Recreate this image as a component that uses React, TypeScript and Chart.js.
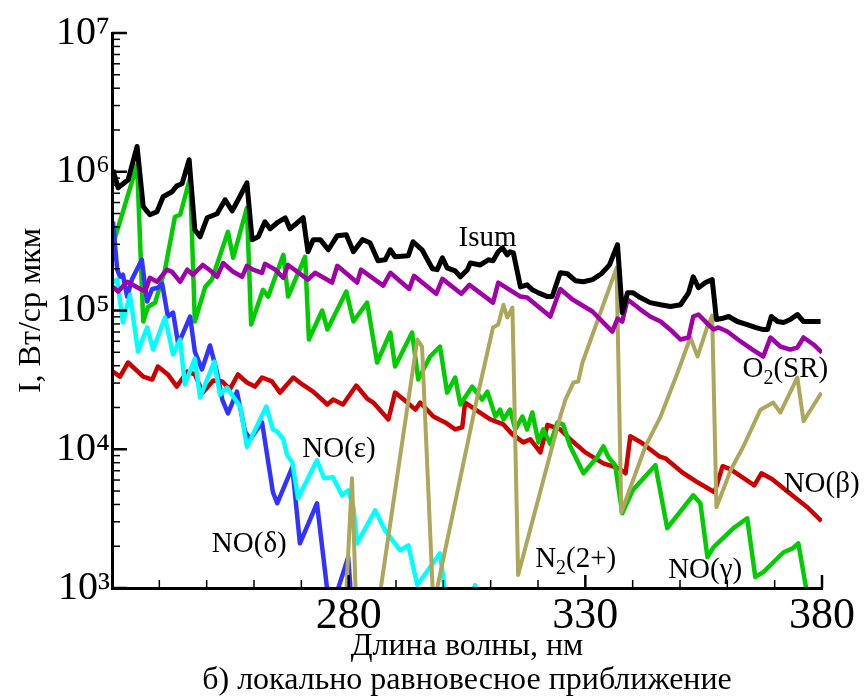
import { useEffect, useRef } from 'react';
import { Chart, registerables } from 'chart.js';

Chart.register(...registerables);

const SERIF = '"Liberation Serif", "Times New Roman", Times, serif';

// Axis ranges and tick labels
const xMin = 230;
const xMax = 380;
const yMin = 1e3;
const yMax = 1e7;
const xTickValues = [280, 330, 380];
const yTickValues = [1e3, 1e4, 1e5, 1e6, 1e7];

// [wavelength nm, intensity]
const isum: [number, number][] = [
  [230.2, 1.03e6], [231.3, 7.67e5], [233.4, 8.75e5], [235.3, 1.52e6], [236.6, 5.6e5], [238.0, 4.9e5],
  [239.5, 5.15e5], [240.8, 6.6e5], [242.7, 7.17e5], [243.7, 7.92e5], [244.8, 8.19e5], [246.3, 1.22e6],
  [247.5, 3.82e5], [248.6, 3.4e5], [250.1, 4.66e5], [252.2, 4.98e5], [253.9, 6.28e5], [255.4, 5.23e5],
  [257.1, 6.71e5], [258.5, 8.33e5], [259.6, 3.24e5], [260.9, 3.4e5], [262.3, 4.36e5], [263.4, 3.88e5],
  [264.9, 4.29e5], [266.6, 4.66e5], [267.6, 3.88e5], [270.4, 4.66e5], [271.4, 2.65e5], [272.5, 3.24e5],
  [274.0, 3.24e5], [275.7, 2.74e5], [277.6, 3.46e5], [279.5, 3.51e5], [281.0, 2.65e5], [282.9, 3.24e5],
  [284.5, 3.08e5], [286.2, 2.28e5], [287.7, 2.32e5], [288.8, 2.74e5], [289.8, 2.44e5], [292.6, 2.48e5],
  [293.6, 3.13e5], [295.5, 2.74e5], [297.7, 2.0e5], [298.7, 1.97e5], [299.8, 2.4e5], [300.8, 2.03e5],
  [302.5, 1.93e5], [303.6, 1.75e5], [305.1, 1.97e5], [305.7, 2.2e5], [307.8, 2.13e5], [309.5, 2.32e5],
  [310.5, 2.28e5], [311.6, 2.65e5], [312.5, 2.83e5], [313.5, 2.52e5], [314.1, 2.65e5], [314.8, 2.6e5],
  [316.3, 1.48e5], [317.7, 1.53e5], [318.8, 1.41e5], [320.1, 1.34e5], [322.0, 1.26e5], [323.0, 1.26e5],
  [324.7, 1.87e5], [326.2, 1.84e5], [327.9, 1.64e5], [329.6, 1.61e5], [331.5, 1.67e5], [333.4, 1.84e5],
  [335.1, 2.13e5], [336.8, 2.98e5], [337.8, 9.67e4], [338.9, 1.34e5], [340.1, 1.34e5], [341.6, 1.24e5],
  [343.7, 1.14e5], [345.9, 1.1e5], [348.0, 1.07e5], [350.1, 1.1e5], [351.8, 1.34e5], [352.8, 1.75e5],
  [353.9, 1.46e5], [355.4, 1.59e5], [356.8, 1.67e5], [357.7, 8.6e4], [358.8, 8.75e4], [360.3, 9.05e4],
  [362.1, 8.33e4], [364.2, 7.92e4], [365.9, 7.55e4], [367.4, 7.3e4], [368.5, 7.3e4], [369.3, 9.05e4],
  [370.6, 8.33e4], [371.9, 8.19e4], [373.3, 8.6e4], [374.8, 9.36e4], [376.1, 8.33e4], [378.0, 8.33e4],
  [379.7, 8.33e4],
];

const o2SR: [number, number][] = [
  [230.2, 1.48e5], [231.3, 1.37e5], [233.2, 1.61e5], [235.5, 1.46e5], [237.0, 1.37e5], [238.0, 1.72e5],
  [239.5, 1.61e5], [241.6, 1.97e5], [242.7, 1.9e5], [244.4, 1.61e5], [245.9, 1.97e5], [247.1, 1.81e5],
  [249.2, 2.13e5], [251.1, 1.9e5], [252.2, 1.75e5], [253.5, 2.2e5], [255.6, 1.9e5], [257.5, 1.75e5],
  [258.5, 2.1e5], [259.8, 1.97e5], [261.7, 1.87e5], [262.3, 2.17e5], [264.5, 1.97e5], [266.2, 1.72e5],
  [267.2, 2.13e5], [271.4, 1.67e5], [272.9, 1.87e5], [276.5, 1.59e5], [277.6, 2.1e5], [281.8, 1.59e5],
  [282.6, 1.97e5], [287.3, 1.51e5], [288.8, 1.87e5], [292.8, 1.43e5], [293.8, 1.78e5], [298.5, 1.32e5],
  [299.8, 1.69e5], [303.8, 1.32e5], [305.5, 1.53e5], [310.5, 1.14e5], [311.6, 1.59e5], [316.3, 1.26e5],
  [317.7, 1.24e5], [322.6, 9.05e4], [324.7, 1.43e5], [327.3, 1.2e5], [331.5, 9.84e4], [335.7, 7.05e4],
  [336.8, 8.75e4], [337.8, 8.33e4], [338.9, 1.2e5], [341.6, 1.02e5], [343.7, 9.05e4], [345.9, 8.33e4],
  [348.4, 7.05e4], [350.1, 6.18e4], [351.8, 6.39e4], [352.8, 9.05e4], [353.9, 9.36e4], [356.0, 7.92e4],
  [357.1, 7.3e4], [358.1, 7.55e4], [360.0, 7.05e4], [362.8, 5.98e4], [365.3, 5.23e4], [367.6, 4.66e4],
  [369.1, 6.39e4], [371.2, 5.5e4], [373.3, 5.23e4], [374.8, 5.41e4], [376.1, 6.39e4], [378.2, 5.69e4],
  [380.0, 4.98e4],
];

const noGamma: [number, number][] = [
  [230.2, 2.98e5], [235.3, 1.12e6], [236.6, 8.33e4], [237.6, 1.06e5], [239.1, 1.14e5], [241.2, 1.97e5],
  [243.3, 4.74e5], [244.4, 4.9e5], [246.5, 9.05e5], [247.5, 8.33e4], [249.7, 1.48e5], [251.1, 1.67e5],
  [254.5, 3.69e5], [255.6, 2.4e5], [258.5, 5.5e5], [259.4, 7.92e4], [261.9, 1.41e5], [263.0, 1.26e5],
  [266.2, 2.52e5], [267.2, 1.26e5], [270.8, 2.44e5], [271.6, 6.18e4], [274.4, 1.0e5], [275.5, 7.3e4],
  [279.5, 1.37e5], [281.0, 8.33e4], [283.9, 1.14e5], [286.0, 4.22e4], [288.8, 6.94e4], [289.8, 3.95e4],
  [293.4, 6.94e4], [294.7, 3.18e4], [297.2, 4.66e4], [299.3, 5.5e4], [300.8, 2.56e4], [302.5, 3.29e4],
  [303.6, 2.1e4], [306.1, 2.83e4], [308.2, 2.28e4], [309.3, 2.6e4], [311.0, 1.72e4], [312.0, 1.93e4],
  [312.7, 1.64e4], [314.1, 1.93e4], [315.2, 1.39e4], [316.7, 1.72e4], [317.7, 1.39e4], [318.8, 1.84e4],
  [320.1, 1.12e4], [321.1, 1.39e4], [322.6, 1.09e4], [324.1, 1.56e4], [325.3, 1.51e4], [326.8, 1.05e4],
  [329.6, 6.71e3], [332.5, 8.75e3], [333.8, 1.05e4], [334.9, 8.75e3], [336.3, 7.67e3], [337.8, 3.46e3],
  [340.0, 5.06e3], [344.8, 7.67e3], [347.3, 2.7e3], [352.8, 4.66e3], [354.3, 4.08e3], [355.8, 1.67e3],
  [357.1, 1.97e3], [361.3, 2.7e3], [364.2, 3.18e3], [365.9, 1.2e3], [367.6, 1.3e3], [371.9, 1.81e3],
  [373.8, 1.93e3], [375.0, 2.1e3], [376.9, 8.9e2],
];

const noBeta: [number, number][] = [
  [230.2, 3.63e4], [231.7, 3.34e4], [233.4, 4.22e4], [236.6, 3.34e4], [238.5, 3.18e4], [239.7, 3.95e4],
  [241.8, 3.46e4], [243.7, 2.83e4], [245.9, 3.63e4], [247.5, 3.46e4], [249.2, 2.56e4], [251.4, 3.13e4],
  [253.3, 3.08e4], [254.9, 2.7e4], [256.6, 3.46e4], [258.5, 3.03e4], [260.2, 2.83e4], [261.7, 3.29e4],
  [263.8, 3.08e4], [265.5, 2.56e4], [268.3, 3.29e4], [270.2, 2.93e4], [272.5, 2.6e4], [275.5, 2.1e4],
  [276.7, 2.28e4], [278.8, 2.1e4], [281.6, 2.88e4], [283.9, 2.32e4], [285.2, 2.17e4], [288.4, 1.64e4],
  [289.8, 2.56e4], [292.4, 2.17e4], [294.1, 1.93e4], [295.1, 2.17e4], [297.9, 1.72e4], [300.4, 1.56e4],
  [302.5, 1.39e4], [304.0, 1.44e4], [304.6, 2.17e4], [309.9, 1.64e4], [312.7, 1.51e4], [314.6, 1.28e4],
  [316.9, 1.12e4], [318.4, 1.18e4], [320.5, 9.5e3], [322.0, 1.5e4], [324.7, 1.39e4], [326.8, 1.18e4],
  [330.0, 9.5e3], [333.8, 7.92e3], [337.0, 7.3e3], [338.5, 6.71e3], [339.5, 1.24e4], [341.8, 1.12e4],
  [345.6, 8.9e3], [346.9, 8.6e3], [350.5, 6.8e3], [353.7, 5.78e3], [357.3, 4.9e3], [359.0, 7.55e3],
  [360.7, 7.17e3], [365.7, 5.5e3], [367.2, 6.71e3], [369.5, 6.08e3], [372.9, 4.9e3], [376.9, 3.82e3],
  [379.9, 3.03e3],
];

const noDelta: [number, number][] = [
  [230.2, 4.36e5], [231.1, 1.97e5], [231.7, 1.75e5], [232.3, 1.81e5], [233.2, 1.26e5], [234.2, 1.67e5],
  [236.3, 2.32e5], [237.4, 1.16e5], [238.5, 1.43e5], [239.7, 1.46e5], [240.6, 1.56e5], [241.8, 9.05e4],
  [242.9, 9.67e4], [244.0, 5.69e4], [246.5, 9.05e4], [247.5, 5.06e4], [249.0, 3.76e4], [250.7, 5.6e4],
  [252.2, 3.57e4], [253.3, 2.28e4], [254.5, 1.81e4], [256.4, 2.6e4], [258.1, 1.34e4], [259.2, 1.18e4],
  [261.7, 1.56e4], [264.0, 4.9e3], [264.9, 4.08e3], [268.1, 7.42e3], [269.7, 2.1e3], [273.3, 4.08e3],
  [275.5, 9.5e2], [276.3, 6.9e2], [279.9, 1.67e3], [280.7, 6.9e2],
];

const noEpsilon: [number, number][] = [
  [230.2, 1.59e5], [231.1, 1.67e5], [232.3, 8.19e4], [233.8, 1.3e5], [235.5, 5.06e4], [237.4, 7.55e4],
  [238.7, 5.23e4], [241.2, 8.9e4], [242.9, 4.82e4], [244.4, 6.18e4], [245.4, 2.93e4], [247.5, 4.51e4],
  [248.6, 2.36e4], [251.6, 4.29e4], [252.8, 2.48e4], [254.3, 2.78e4], [255.6, 2.4e4], [257.1, 2.03e4],
  [258.5, 1.04e4], [262.6, 2.03e4], [264.0, 1.39e4], [264.9, 1.34e4], [266.2, 1.18e4], [267.0, 9.05e3],
  [268.1, 8.05e3], [269.3, 4.43e3], [273.3, 8.33e3], [274.8, 6.18e3], [276.7, 6.28e3], [278.6, 4.66e3],
  [279.9, 5.06e3], [281.0, 3.82e3], [281.8, 2.1e3], [285.6, 3.63e3], [287.7, 2.6e3], [288.8, 2.32e3],
  [290.9, 1.87e3], [292.6, 2.03e3], [294.5, 1.05e3], [299.3, 1.78e3], [300.6, 8.2e2], [304.6, 6.0e2],
  [306.7, 1.05e3], [307.8, 6.0e2],
];

const n2SecondPositive: [number, number][] = [
  [279.3, 6.9e2], [280.7, 6.18e3], [281.6, 6.9e2], [285.8, 5.9e2], [294.5, 6.18e4], [295.5, 5.5e4],
  [297.9, 7.4e2], [307.2, 2.4e4], [309.3, 4.98e4], [310.5, 7.55e4], [311.6, 7.92e4], [312.7, 1.1e5],
  [313.5, 8.9e4], [314.6, 1.05e5], [315.8, 1.24e3], [324.7, 1.72e4], [325.8, 2.28e4], [327.5, 3.03e4],
  [328.5, 3.08e4], [329.4, 4.22e4], [336.6, 2.03e5], [337.6, 3.51e3], [342.7, 1.05e4], [345.9, 1.72e4],
  [349.5, 3.57e4], [352.2, 6.39e4], [353.7, 4.66e4], [355.8, 7.67e4], [356.8, 9.2e4], [357.7, 3.82e3],
  [360.7, 7.05e3], [363.4, 1.05e4], [367.0, 1.93e4], [369.7, 2.17e4], [371.2, 1.84e4], [374.8, 3.29e4],
  [376.1, 1.59e4], [379.9, 2.56e4],
];

// Curve labels: anchor (left, baseline) in data units
const curveLabels = [
  { x: 303.2, y: 2.93e5, parts: [{ t: 'Isum' }] },
  { x: 363.2, y: 3.29e4, parts: [{ t: 'O' }, { t: '2', sub: true }, { t: '(SR)' }] },
  { x: 270.2, y: 8.75e3, parts: [{ t: 'NO(ε)' }] },
  { x: 251.1, y: 1.81e3, parts: [{ t: 'NO(δ)' }] },
  { x: 319.4, y: 1.41e3, parts: [{ t: 'N' }, { t: '2', sub: true }, { t: '(2+)' }] },
  { x: 347.5, y: 1.18e3, parts: [{ t: 'NO(γ)' }] },
  { x: 371.9, y: 4.9e3, parts: [{ t: 'NO(β)' }] },
];

const SUP: Record<string, string> = {
  '0': '⁰', '1': '¹', '2': '²', '3': '³', '4': '⁴', '5': '⁵', '6': '⁶', '7': '⁷', '8': '⁸', '9': '⁹',
};

const toPoints = (arr: [number, number][]) => arr.map(([x, y]) => ({ x, y }));

const inwardTicks = {
  id: 'inwardTicks',
  afterDraw(chart: any) {
    const { ctx, chartArea: a } = chart;
    const xs = chart.scales.x;
    const ys = chart.scales.y;
    ctx.save();
    ctx.strokeStyle = '#000';
    ctx.lineCap = 'butt';
    for (let e = 3; e <= 7; e++) {
      for (let m = 1; m <= 9; m++) {
        const v = m * Math.pow(10, e);
        if (v > yMax) break;
        const py = ys.getPixelForValue(v);
        const major = m === 1;
        ctx.lineWidth = major ? 2.5 : 1.5;
        ctx.beginPath();
        ctx.moveTo(a.left, py);
        ctx.lineTo(a.left + (major ? 15 : 8), py);
        ctx.stroke();
      }
    }
    for (let v = xMin; v <= xMax; v += 10) {
      const px = xs.getPixelForValue(v);
      const major = xTickValues.includes(v);
      ctx.lineWidth = major ? 2.5 : 1.5;
      ctx.beginPath();
      ctx.moveTo(px, a.bottom);
      ctx.lineTo(px, a.bottom - (major ? 13 : 8));
      ctx.stroke();
    }
    ctx.restore();
  },
};

const labelPlugin = {
  id: 'curveLabels',
  afterDraw(chart: any) {
    const { ctx } = chart;
    const xs = chart.scales.x;
    const ys = chart.scales.y;
    ctx.save();
    ctx.fillStyle = '#000';
    ctx.textBaseline = 'alphabetic';
    ctx.textAlign = 'left';
    for (const lab of curveLabels) {
      let px = xs.getPixelForValue(lab.x);
      const py = ys.getPixelForValue(lab.y);
      for (const part of lab.parts as { t: string; sub?: boolean }[]) {
        const size = part.sub ? 20 : 29;
        ctx.font = `${size}px ${SERIF}`;
        ctx.fillText(part.t, px, py + (part.sub ? 7 : 0));
        px += ctx.measureText(part.t).width;
      }
    }
    ctx.restore();
  },
};

export default function App() {
  const canvasRef = useRef<HTMLCanvasElement | null>(null);

  useEffect(() => {
    if (!canvasRef.current) return;
    const line = (data: [number, number][], color: string, width: number, order: number) => ({
      data: toPoints(data),
      borderColor: color,
      backgroundColor: color,
      borderWidth: width,
      pointRadius: 0,
      tension: 0,
      fill: false,
      borderJoinStyle: 'round' as const,
      order,
    });
    const chart = new Chart(canvasRef.current, {
      type: 'line',
      data: {
        datasets: [
          line(noBeta, '#cc0000', 4.5, 7),
          line(noGamma, '#00cc00', 4.5, 6),
          line(noDelta, '#3333ff', 4.5, 5),
          line(noEpsilon, '#00ffff', 4.5, 4),
          line(n2SecondPositive, '#aca75a', 4, 3),
          line(o2SR, '#a000a8', 4.5, 2),
          line(isum, '#000000', 5, 1),
        ],
      },
      options: {
        responsive: false,
        animation: false,
        devicePixelRatio: 1,
        layout: { padding: { left: 0, right: 42, top: 33, bottom: 0 } },
        plugins: {
          legend: { display: false },
          tooltip: { enabled: false },
          title: { display: false },
        },
        scales: {
          x: {
            type: 'linear',
            min: xMin,
            max: xMax,
            afterBuildTicks: (s: any) => {
              s.ticks = xTickValues.map((v) => ({ value: v }));
            },
            afterFit: (s: any) => {
              s.height = 112;
            },
            grid: { display: false, drawTicks: false },
            border: { display: true, color: '#000', width: 3, z: 1 },
            ticks: {
              font: { family: SERIF, size: 44 },
              color: '#000',
              padding: 2,
              maxRotation: 0,
              autoSkip: false,
            },
            title: {
              display: true,
              text: ['Длина волны, нм', 'б) локально равновесное приближение'],
              font: { family: SERIF, size: 32, lineHeight: 1.05 },
              color: '#000',
              padding: { top: 0, bottom: 3 },
            },
          },
          y: {
            type: 'logarithmic',
            min: yMin,
            max: yMax,
            afterBuildTicks: (s: any) => {
              s.ticks = yTickValues.map((v) => ({ value: v, major: true }));
            },
            afterFit: (s: any) => {
              s.width = 112;
            },
            grid: { display: false, drawTicks: false },
            border: { display: true, color: '#000', width: 3, z: 1 },
            ticks: {
              font: { family: SERIF, size: 40 },
              color: '#000',
              padding: 2,
              autoSkip: false,
              callback: (v: any) => '10' + SUP[String(Math.round(Math.log10(Number(v))))],
            },
            title: {
              display: true,
              text: 'I, Вт/ср мкм',
              font: { family: SERIF, size: 32, lineHeight: 1.2 },
              color: '#000',
              padding: { top: 12, bottom: 0 },
            },
          },
        },
      },
      plugins: [inwardTicks, labelPlugin],
    });
    return () => chart.destroy();
  }, []);

  return (
    <div style={{ position: 'absolute', left: 0, top: 0, width: 864, height: 700, background: '#fff' }}>
      <canvas ref={canvasRef} width={864} height={700} style={{ display: 'block' }} />
    </div>
  );
}
